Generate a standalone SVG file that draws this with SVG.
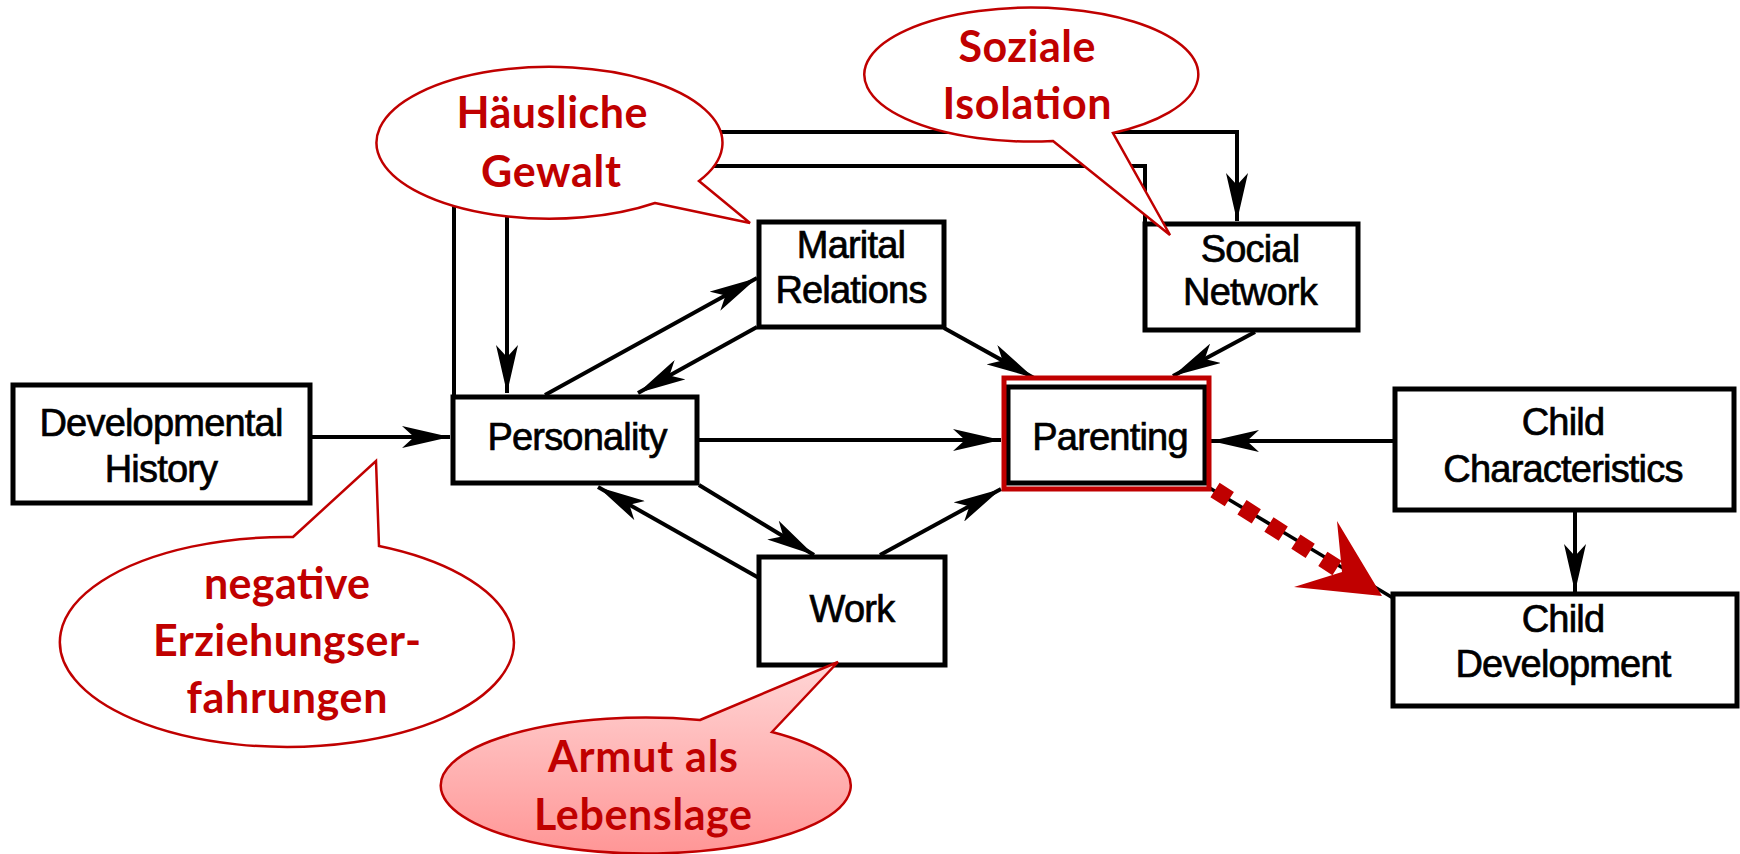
<svg xmlns="http://www.w3.org/2000/svg" width="1740" height="854" viewBox="0 0 1740 854">
<style>
.box{fill:#fff;stroke:#000;stroke-width:5}
.lbl{font-family:"Liberation Sans",Arial,sans-serif;font-size:38px;letter-spacing:-0.8px;fill:#000;stroke:#000;stroke-width:0.7px;text-anchor:middle}
.ln{fill:none;stroke:#000;stroke-width:4}
.call{fill:#fff;stroke:#C00000;stroke-width:2.5;stroke-linejoin:miter}
.ct{font-family:Lato,"Open Sans",sans-serif;font-weight:bold;font-size:43px;fill:#C00000;text-anchor:middle}
</style>
<defs>
<marker id="ah" markerUnits="userSpaceOnUse" viewBox="0 0 48 22" markerWidth="48" markerHeight="22" refX="48" refY="11" orient="auto">
<path d="M0,0 L48,11 L0,22 L12,11 Z" fill="#000"/>
</marker>
<linearGradient id="pink" x1="0" y1="0" x2="0" y2="1">
<stop offset="0" stop-color="#FFD6D6"/>
<stop offset="1" stop-color="#FF9696"/>
</linearGradient>
</defs>
<rect width="1740" height="854" fill="#fff"/>
<g id="connectors">
<line class="ln" x1="310" y1="437" x2="450" y2="437" marker-end="url(#ah)"/>
<line class="ln" x1="697" y1="440" x2="1001" y2="440" marker-end="url(#ah)"/>
<line class="ln" x1="1395" y1="441" x2="1211" y2="441" marker-end="url(#ah)"/>
<line class="ln" x1="1575" y1="510" x2="1575" y2="592" marker-end="url(#ah)"/>
<line class="ln" x1="944" y1="328" x2="1034" y2="378" marker-end="url(#ah)"/>
<line class="ln" x1="1255" y1="332" x2="1173" y2="376" marker-end="url(#ah)"/>
<line class="ln" x1="545" y1="395" x2="757" y2="278" marker-end="url(#ah)"/>
<line class="ln" x1="757" y1="327" x2="638" y2="393" marker-end="url(#ah)"/>
<line class="ln" x1="699" y1="485" x2="814" y2="555" marker-end="url(#ah)"/>
<line class="ln" x1="759" y1="578" x2="598" y2="487" marker-end="url(#ah)"/>
<line class="ln" x1="880" y1="555" x2="1001" y2="489" marker-end="url(#ah)"/>
<polyline class="ln" points="454,397 454,132 1237,132 1237,221" marker-end="url(#ah)"/>
<polyline class="ln" points="1145,224 1145,166 507,166 507,393" marker-end="url(#ah)"/>
<line x1="1208" y1="487" x2="1393" y2="598" stroke="#000" stroke-width="3.5"/>
<line x1="1215" y1="490" x2="1337" y2="568" stroke="#C00000" stroke-width="17" stroke-dasharray="17 15"/>
<polygon points="1337,521 1382,596 1294,587 1342,572" fill="#C00000"/>
</g>
<g id="developmental-history">
<rect class="box" x="13" y="385" width="297" height="118"/>
<text class="lbl" x="161" y="436">Developmental</text>
<text class="lbl" x="161" y="482">History</text>
</g>
<g id="personality">
<rect class="box" x="453" y="397" width="244" height="86"/>
<text class="lbl" x="577" y="450">Personality</text>
</g>
<g id="marital-relations">
<rect class="box" x="759" y="222" width="185" height="105"/>
<text class="lbl" x="851" y="258">Marital</text>
<text class="lbl" x="851" y="303">Relations</text>
</g>
<g id="social-network">
<rect class="box" x="1145" y="224" width="213" height="106"/>
<text class="lbl" x="1250" y="262">Social</text>
<text class="lbl" x="1250" y="305">Network</text>
</g>
<g id="parenting">
<rect class="box" x="1008" y="387" width="197" height="96"/>
<rect x="1004" y="378" width="205" height="111" fill="none" stroke="#C00000" stroke-width="5"/>
<text class="lbl" x="1110" y="450">Parenting</text>
</g>
<g id="child-characteristics">
<rect class="box" x="1395" y="389" width="339" height="121"/>
<text class="lbl" x="1563" y="435">Child</text>
<text class="lbl" x="1563" y="482">Characteristics</text>
</g>
<g id="child-development">
<rect class="box" x="1393" y="594" width="344" height="112"/>
<text class="lbl" x="1563" y="632">Child</text>
<text class="lbl" x="1563" y="677">Development</text>
</g>
<g id="work">
<rect class="box" x="759" y="557" width="186" height="108"/>
<text class="lbl" x="852" y="622">Work</text>
</g>
<g id="callout-haeusliche-gewalt">
<path class="call" d="M655,203 L750,223 L699,181 A173,76 0 1 0 655,203 Z"/>
<text class="ct" x="552" y="128" textLength="191">Häusliche</text>
<text class="ct" x="551" y="187" textLength="140">Gewalt</text>
</g>
<g id="callout-soziale-isolation">
<path class="call" d="M1053,141 L1170,235 L1113,133 A167,67 0 1 0 1053,141 Z"/>
<text class="ct" x="1027" y="62" textLength="137">Soziale</text>
<text class="ct" x="1027" y="119" textLength="169">Isolation</text>
</g>
<g id="callout-negative-erziehungserfahrungen">
<path class="call" d="M293,537 L376,461 L379,546 A227,105 0 1 1 293,537 Z"/>
<text class="ct" x="287" y="599" textLength="166">negative</text>
<text class="ct" x="287" y="656" textLength="268">Erziehungser-</text>
<text class="ct" x="287" y="713" textLength="201">fahrungen</text>
</g>
<g id="callout-armut">
<path class="call" style="fill:url(#pink)" d="M700,720 L838,662 L772,732 A205,68 0 1 1 700,720 Z"/>
<text class="ct" x="643" y="772" textLength="190">Armut als</text>
<text class="ct" x="643" y="830" textLength="218">Lebenslage</text>
</g>
</svg>
